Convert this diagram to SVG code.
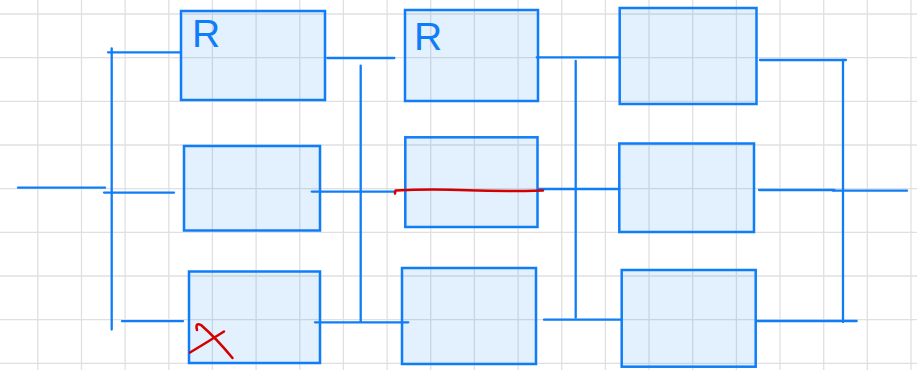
<svg xmlns="http://www.w3.org/2000/svg" width="917" height="370" viewBox="0 0 917 370">
<style>
.grid line{stroke:#e0e0e0;stroke-width:1.3}
.box{fill:#1580f8;fill-opacity:0.12;stroke:#0f7df7;stroke-width:2.5}
.wire{stroke:#0f7df7;stroke-width:2.3;fill:none;stroke-linecap:round}
.mark{stroke:#d40000;stroke-width:2.5;fill:none;stroke-linecap:round;stroke-linejoin:round}
.lbl{font-family:"Liberation Sans",Arial,sans-serif;font-size:39px;fill:#0f7df7}
</style>
<rect width="917" height="370" fill="#ffffff"/>
<g class="grid">
<line x1="37.8" y1="0" x2="37.8" y2="370"/><line x1="81.5" y1="0" x2="81.5" y2="370"/><line x1="125.1" y1="0" x2="125.1" y2="370"/><line x1="168.8" y1="0" x2="168.8" y2="370"/><line x1="212.4" y1="0" x2="212.4" y2="370"/><line x1="256.1" y1="0" x2="256.1" y2="370"/><line x1="299.8" y1="0" x2="299.8" y2="370"/><line x1="343.4" y1="0" x2="343.4" y2="370"/><line x1="387.1" y1="0" x2="387.1" y2="370"/><line x1="430.7" y1="0" x2="430.7" y2="370"/><line x1="474.4" y1="0" x2="474.4" y2="370"/><line x1="518.1" y1="0" x2="518.1" y2="370"/><line x1="561.7" y1="0" x2="561.7" y2="370"/><line x1="605.4" y1="0" x2="605.4" y2="370"/><line x1="649" y1="0" x2="649" y2="370"/><line x1="692.7" y1="0" x2="692.7" y2="370"/><line x1="736.4" y1="0" x2="736.4" y2="370"/><line x1="780" y1="0" x2="780" y2="370"/><line x1="823.7" y1="0" x2="823.7" y2="370"/><line x1="867.3" y1="0" x2="867.3" y2="370"/><line x1="911" y1="0" x2="911" y2="370"/>
<line x1="0" y1="14" x2="917" y2="14"/><line x1="0" y1="57.7" x2="917" y2="57.7"/><line x1="0" y1="101.3" x2="917" y2="101.3"/><line x1="0" y1="145" x2="917" y2="145"/><line x1="0" y1="188.6" x2="917" y2="188.6"/><line x1="0" y1="232.3" x2="917" y2="232.3"/><line x1="0" y1="276" x2="917" y2="276"/><line x1="0" y1="319.6" x2="917" y2="319.6"/><line x1="0" y1="363.3" x2="917" y2="363.3"/>
</g>
<g id="connectors">
<path class="wire" d="M18,187.7 H105"/>
<path class="wire" d="M111.7,48.5 V329.5"/>
<path class="wire" d="M108,52.3 H181"/>
<path class="wire" d="M104,192.6 H174"/>
<path class="wire" d="M122,321.2 H183"/>
<path class="wire" d="M327.3,58 H394.3"/>
<path class="wire" d="M360.7,65.7 V321.7"/>
<path class="wire" d="M311.7,191.6 H395"/>
<path class="wire" d="M315,322.3 H408.3"/>
<path class="wire" d="M536.7,57.3 H619.7"/>
<path class="wire" d="M575.7,61 V317.7"/>
<path class="wire" d="M538,189 H619.3"/>
<path class="wire" d="M544,319.7 H621.7"/>
<path class="wire" d="M760,60 H846"/>
<path class="wire" d="M843,60 V322"/>
<path class="wire" d="M759,190 H834.3"/>
<path class="wire" d="M833,190.7 H907"/>
<path class="wire" d="M757,321 H856.7"/>
</g>
<g id="n1"><rect class="box" x="181" y="11" width="144" height="89"/><text class="lbl" x="192" y="47">R</text></g>
<g id="n2"><rect class="box" x="184" y="146" width="136" height="84.5"/></g>
<g id="n3"><rect class="box" x="189" y="271.5" width="131" height="91.5"/><path class="mark" d="M190,352.5 Q206,343 224,331.5"/><path class="mark" d="M197,330 Q195,322 201,325 Q216,338 232.5,358"/></g>
<g id="n4"><rect class="box" x="405" y="10" width="133" height="91"/><text class="lbl" x="414" y="50">R</text></g>
<g id="n5"><rect class="box" x="405.3" y="137.3" width="132.2" height="89.7"/><path class="mark" d="M395,193.5 L395.5,190.5 Q430,188.8 468,190.3 Q505,191.8 543,190.5"/></g>
<g id="n6"><rect class="box" x="402" y="268" width="134" height="96"/></g>
<g id="n7"><rect class="box" x="619.7" y="8" width="136.8" height="96"/></g>
<g id="n8"><rect class="box" x="619.3" y="143.5" width="134.7" height="88.5"/></g>
<g id="n9"><rect class="box" x="621.7" y="270" width="134" height="96.7"/></g>
</svg>
